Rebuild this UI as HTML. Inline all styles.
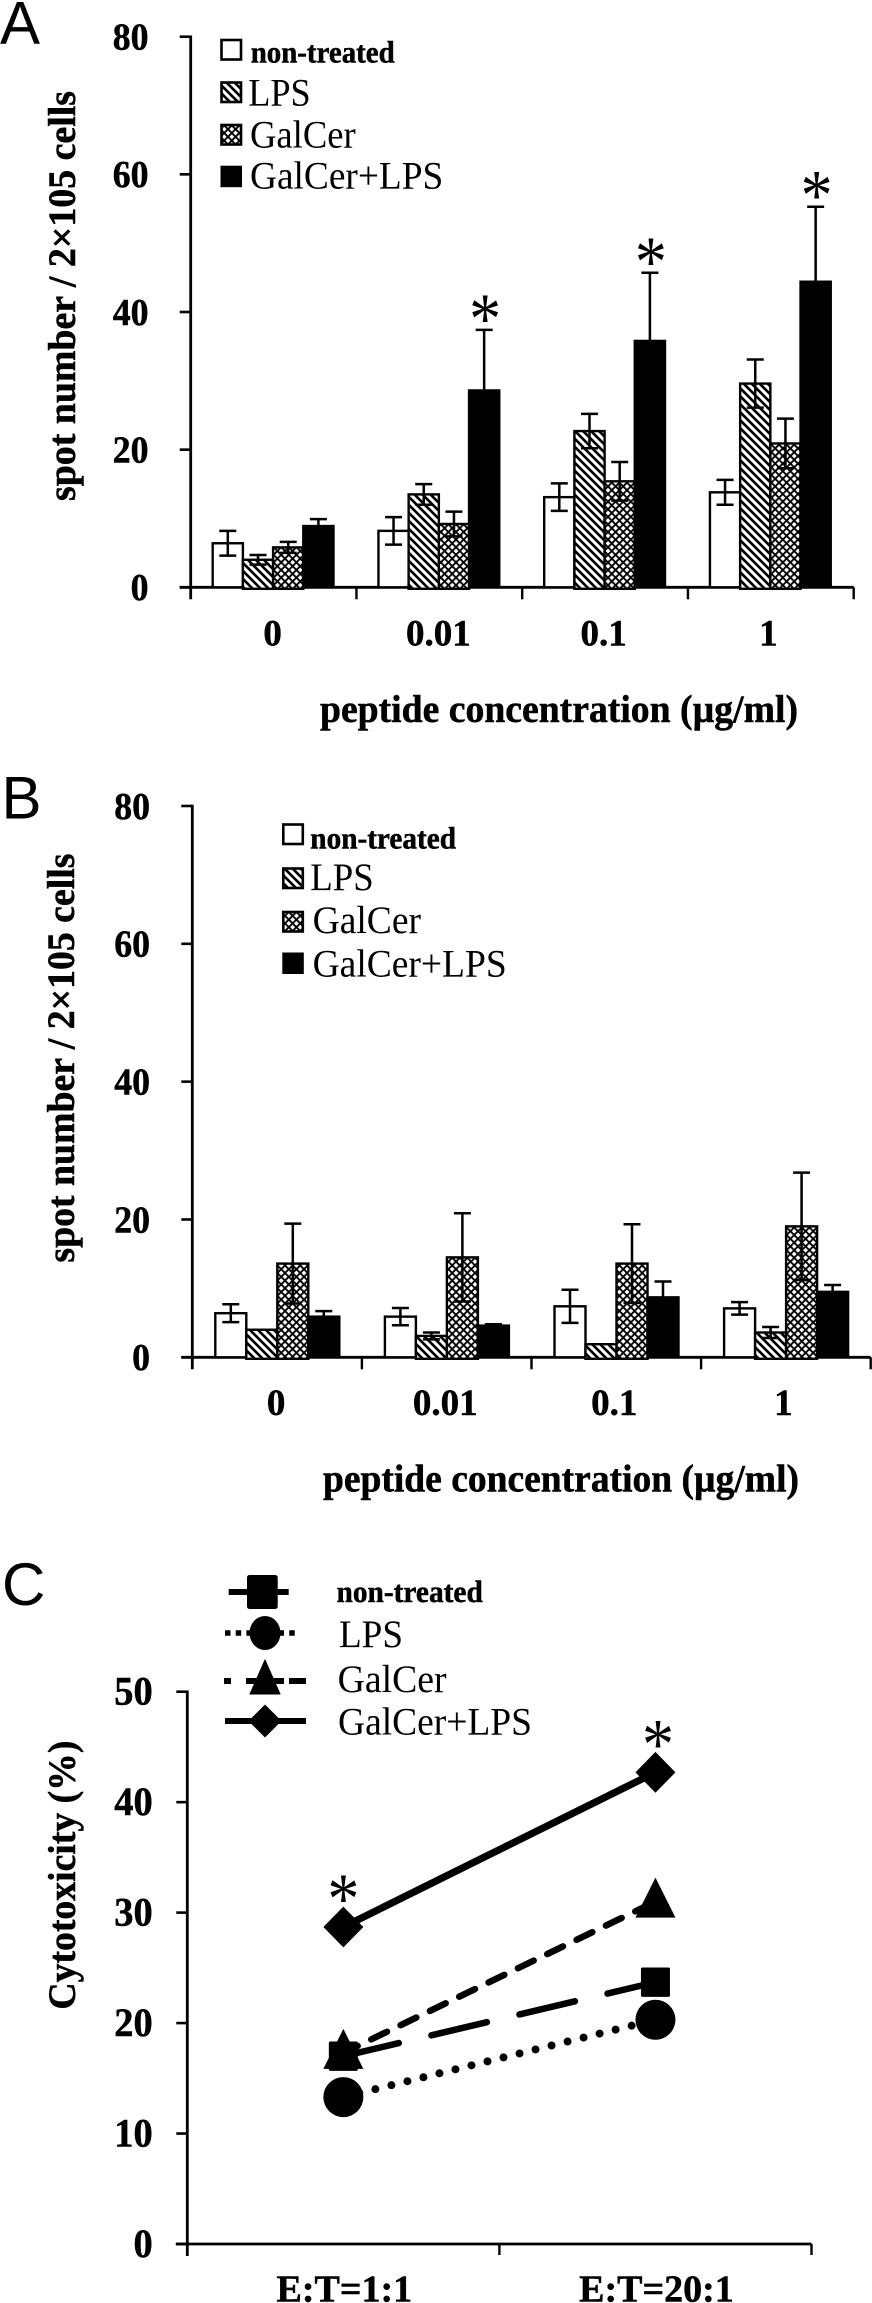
<!DOCTYPE html>
<html lang="en">
<head>
<meta charset="utf-8">
<title>Spot number and cytotoxicity charts</title>
<style>
html,body{margin:0;padding:0;background:#fff;}
svg{display:block;}
text{font-family:"Liberation Serif","Noto Serif CJK SC",serif;fill:#000;}
.panel{font-family:"Liberation Sans","Noto Sans CJK SC",sans-serif;font-size:60px;}
.b{font-weight:bold;font-size:39px;stroke:#000;stroke-width:.5px;}
.n{font-size:31px;}
.r{font-size:39px;}
</style>
</head>
<body>
<svg id="figure" xmlns="http://www.w3.org/2000/svg" width="872" height="2303" viewBox="0 0 872 2303">
  <defs>
    <pattern id="stripes" patternUnits="userSpaceOnUse" width="8" height="8">
      <rect width="8" height="8" fill="#fff"/>
      <path d="M-2 -2L10 10M-2 6L2 10M6 -2L10 2" stroke="#000" stroke-width="2.6"/>
    </pattern>
    <pattern id="cross" patternUnits="userSpaceOnUse" width="7.6" height="7.6">
      <rect width="7.6" height="7.6" fill="#fff"/>
      <path d="M0 0L7.6 7.6M7.6 0L0 7.6" stroke="#000" stroke-width="1.9"/>
    </pattern>
  </defs>
  <rect width="872" height="2303" fill="#fff"/>

  <text class="panel" x="0" y="43.5">A</text>
  <text class="panel" x="1.5" y="818.3">B</text>
  <text class="panel" x="2" y="1605">C</text>

  <g id="chart-a"></g>
  <g id="chart-b"></g>
  <g id="chart-c"></g>

  <text class="b" transform="translate(75 501) rotate(-90)" textLength="410" lengthAdjust="spacingAndGlyphs">spot number / 2×105 cells</text>
  <text class="b" x="320" y="722" textLength="478" lengthAdjust="spacingAndGlyphs">peptide concentration (µg/ml)</text>
  <text class="b" transform="translate(74 1262.6) rotate(-90)" textLength="409" lengthAdjust="spacingAndGlyphs">spot number / 2×105 cells</text>
  <text class="b" x="323" y="1491.5" textLength="476" lengthAdjust="spacingAndGlyphs">peptide concentration (µg/ml)</text>
  <text class="b" transform="translate(75 2009.6) rotate(-90)" textLength="269" lengthAdjust="spacingAndGlyphs">Cytotoxicity (%)</text>

  <g>
    <rect x="221.5" y="40" width="19.5" height="19.5" fill="#fff" stroke="#000" stroke-width="2.6"/>
    <text class="b n" x="250.7" y="62.7" textLength="144" lengthAdjust="spacingAndGlyphs">non-treated</text>
    <rect x="221.5" y="82.5" width="19.5" height="19.5" fill="url(#stripes)" stroke="#000" stroke-width="2.6"/>
    <text class="r" x="248.3" y="105.7" textLength="62.4" lengthAdjust="spacingAndGlyphs">LPS</text>
    <rect x="221.5" y="125" width="19.5" height="19.5" fill="url(#cross)" stroke="#000" stroke-width="2.6"/>
    <text class="r" x="250" y="147.7" textLength="105.7" lengthAdjust="spacingAndGlyphs">GalCer</text>
    <rect x="220.5" y="165.7" width="21.5" height="21.5" fill="#000"/>
    <text class="r" x="250" y="188.3" textLength="193.3" lengthAdjust="spacingAndGlyphs">GalCer+LPS</text>
  </g>

  <g>
    <rect x="283.3" y="824.5" width="19.5" height="19.5" fill="#fff" stroke="#000" stroke-width="2.6"/>
    <text class="b n" x="310.3" y="848.7" textLength="145.7" lengthAdjust="spacingAndGlyphs">non-treated</text>
    <rect x="283.3" y="868.5" width="19.5" height="19.5" fill="url(#stripes)" stroke="#000" stroke-width="2.6"/>
    <text class="r" x="310.3" y="889.8" textLength="63.4" lengthAdjust="spacingAndGlyphs">LPS</text>
    <rect x="283.3" y="912" width="19.5" height="19.5" fill="url(#cross)" stroke="#000" stroke-width="2.6"/>
    <text class="r" x="312.6" y="933" textLength="108.4" lengthAdjust="spacingAndGlyphs">GalCer</text>
    <rect x="282.3" y="952.5" width="21.5" height="21.5" fill="#000"/>
    <text class="r" x="312.6" y="976.6" textLength="194.1" lengthAdjust="spacingAndGlyphs">GalCer+LPS</text>
  </g>

  <g>
    <line x1="228.7" y1="1592" x2="288.7" y2="1592" stroke="#000" stroke-width="6"/>
    <rect x="247" y="1575" width="30.7" height="34" rx="2.5" fill="#000"/>
    <text class="b n" x="336.5" y="1602" textLength="146.3" lengthAdjust="spacingAndGlyphs">non-treated</text>
    <line x1="225" y1="1633" x2="298" y2="1633" stroke="#000" stroke-width="5.5" stroke-dasharray="5.5 5.2"/>
    <ellipse cx="265" cy="1633" rx="15.5" ry="17" fill="#000"/>
    <text class="r" x="339" y="1647" textLength="64" lengthAdjust="spacingAndGlyphs">LPS</text>
    <line x1="224" y1="1681" x2="306" y2="1681" stroke="#000" stroke-width="6" stroke-dasharray="7 15 38 5 17"/>
    <path d="M265 1660L280 1694H250Z" fill="#000" stroke="#000" stroke-width="1" stroke-linejoin="round"/>
    <text class="r" x="337.6" y="1692" textLength="109" lengthAdjust="spacingAndGlyphs">GalCer</text>
    <line x1="225" y1="1721" x2="306" y2="1721" stroke="#000" stroke-width="6"/>
    <path d="M265 1704.5L281.5 1721L265 1737.5L248.5 1721Z" fill="#000"/>
    <text class="r" x="338" y="1734.3" textLength="194" lengthAdjust="spacingAndGlyphs">GalCer+LPS</text>
  </g>
</svg>

<script>
// ---------- shared labels ----------
var seriesKeys = ['non-treated', 'lps', 'galcer', 'galcer-lps'];
var concentrationCategories = ['0', '0.01', '0.1', '1'];
var spotTickLabels = [0, 20, 40, 60, 80];
var cytoTickLabels = [0, 10, 20, 30, 40, 50];
var ratioCategories = ['E:T=1:1', 'E:T=20:1'];

// ---------- chart A values (rows follow the categories) ----------
var aNonTreated = [6.4, 8.2, 13.1, 13.8];
var aNonTreatedErr = [1.8, 2.0, 2.0, 1.8];
var aLps = [4.0, 13.5, 22.7, 29.6];
var aLpsErr = [0.7, 1.5, 2.5, 3.5];
var aGalCer = [5.8, 9.2, 15.4, 20.9];
var aGalCerErr = [0.8, 1.8, 2.8, 3.6];
var aGalCerLps = [8.9, 28.6, 35.8, 44.4];
var aGalCerLpsErr = [1.0, 8.8, 9.9, 10.9];
var aSignificant = [false, true, true, true];

// ---------- chart B values ----------
var bNonTreated = [6.4, 5.9, 7.4, 7.1];
var bNonTreatedErr = [1.3, 1.25, 2.4, 0.9];
var bLps = [4.0, 3.1, 1.9, 3.6];
var bLpsErr = [0, 0.5, 0, 0.8];
var bGalCer = [13.6, 14.5, 13.6, 19.0];
var bGalCerErr = [5.8, 6.4, 5.7, 7.8];
var bGalCerLps = [5.9, 4.6, 8.7, 9.5];
var bGalCerLpsErr = [0.8, 0.2, 2.3, 1.0];

// ---------- chart C values ----------
var cNonTreated = [17.0, 23.7];
var cLps = [13.3, 20.3];
var cGalCer = [17.3, 31.0];
var cGalCerLps = [28.7, 42.7];
var cSignificant = [true, true];

var SVG_NS = 'http://www.w3.org/2000/svg';
function mk(tag, parent, attrs, txt) {
  var e = document.createElementNS(SVG_NS, tag);
  for (var k in attrs) { e.setAttribute(k, attrs[k]); }
  if (txt !== undefined) { e.textContent = txt; }
  parent.appendChild(e);
  return e;
}

function drawAsterisk(g, x, cy) {
  var t = mk('text', g, {x: x, y: cy + 34, 'text-anchor': 'middle', 'font-size': 72, textLength: 32, lengthAdjust: 'spacingAndGlyphs'}, '*');
  
  
}

function drawYAxis(g, x, top, bottom, maxV, ticks, labelRight, digitW, fontSize) {
  var yOf = function (v) { return bottom - (v / maxV) * (bottom - top); };
  var axis = mk('line', g, {x1: x, y1: top - 1.2, x2: x, y2: bottom + 12, stroke: '#000', 'stroke-width': 2.8});
  
  
  ticks.forEach(function (v) {
    var tick = mk('line', g, {x1: x - 11, y1: yOf(v), x2: x, y2: yOf(v), stroke: '#000', 'stroke-width': 2.6});
    
    
    var s = String(v);
    var label = mk('text', g, {x: labelRight, y: yOf(v) + 12.8, 'text-anchor': 'end', 'class': 'b', style: 'font-size:' + fontSize + 'px', textLength: s.length * digitW, lengthAdjust: 'spacingAndGlyphs'}, s);
    
    
  });
  return yOf;
}

function drawBarChart(g, cfg) {
  var yOf = drawYAxis(g, cfg.x0, cfg.top, cfg.bottom, 80, spotTickLabels, cfg.labelRight, 17.9, 38);
  var right = cfg.x0 + cfg.groupW * cfg.cats.length;
  var xAxis = mk('line', g, {x1: cfg.x0 - 11, y1: cfg.bottom, x2: right, y2: cfg.bottom, stroke: '#000', 'stroke-width': 2.8});
  
  
  for (var t = 1; t <= cfg.cats.length; t++) {
    var xt = cfg.x0 + t * cfg.groupW;
    var tick = mk('line', g, {x1: xt, y1: cfg.bottom, x2: xt, y2: cfg.bottom + 12, stroke: '#000', 'stroke-width': 2.4});
    
    
  }
  var fills = ['#fff', 'url(#stripes)', 'url(#cross)', '#000'];
  cfg.cats.forEach(function (cat, c) {
    var gx = cfg.x0 + c * cfg.groupW + cfg.barOffset;
    var label = mk('text', g, {x: cfg.x0 + (c + 0.5) * cfg.groupW + cfg.labelDx[c], y: cfg.labelY, 'text-anchor': 'middle', 'class': 'b', style: 'font-size:37px'}, cat);
    
    
    cfg.values.forEach(function (vals, s) {
      var bx = gx + s * cfg.barW;
      var yTop = yOf(vals[c]);
      var bar = mk('rect', g, {x: bx, y: yTop, width: cfg.barW, height: cfg.bottom - yTop + (s === 1 || s === 2 ? 1.5 : 0), fill: fills[s], stroke: '#000', 'stroke-width': 2.4});
      
      
      var err = cfg.errors[s][c];
      if (err > 0) {
        var cx = bx + cfg.barW / 2;
        var eb = mk('path', g, {
          d: 'M' + cx + ' ' + yOf(vals[c] + err) + 'V' + yOf(vals[c] - err) +
             'M' + (cx - 8.5) + ' ' + yOf(vals[c] + err) + 'H' + (cx + 8.5) +
             'M' + (cx - 8.5) + ' ' + yOf(vals[c] - err) + 'H' + (cx + 8.5),
          fill: 'none', stroke: '#000', 'stroke-width': 2.5
        });
        
        
      }
    });
    if (cfg.significant && cfg.significant[c]) {
      var last = cfg.values.length - 1;
      drawAsterisk(g, gx + last * cfg.barW + cfg.barW / 2 + 1, yOf(cfg.values[last][c] + cfg.errors[last][c]) - 21);
    }
  });
}

drawBarChart(document.getElementById('chart-a'), {
  x0: 190.7, top: 36.7, bottom: 587.3, groupW: 165.75, barOffset: 22, barW: 30.2,
  labelRight: 148.5, labelY: 645.5, labelDx: [-1, -1, -1.5, -2.5],
  cats: concentrationCategories,
  values: [aNonTreated, aLps, aGalCer, aGalCerLps],
  errors: [aNonTreatedErr, aLpsErr, aGalCerErr, aGalCerLpsErr],
  significant: aSignificant
});

drawBarChart(document.getElementById('chart-b'), {
  x0: 192.3, top: 806, bottom: 1357.3, groupW: 169.6, barOffset: 23, barW: 31,
  labelRight: 150, labelY: 1415, labelDx: [-1, -1.5, -2, -2.5],
  cats: concentrationCategories,
  values: [bNonTreated, bLps, bGalCer, bGalCerLps],
  errors: [bNonTreatedErr, bLpsErr, bGalCerErr, bGalCerLpsErr],
  significant: null
});

(function drawLineChart() {
  var g = document.getElementById('chart-c');
  var x0 = 187.3, xEnd = 811.5, top = 1691.7, bottom = 2244;
  var yOf = drawYAxis(g, x0, top, bottom, 50, cytoTickLabels, 152.7, 19.2, 40);
  var step = (xEnd - x0) / ratioCategories.length;
  var xOf = function (i) { return x0 + (i + 0.5) * step; };

  var xAxis = mk('line', g, {x1: x0 - 11.5, y1: bottom, x2: xEnd, y2: bottom, stroke: '#000', 'stroke-width': 2.8});
  
  
  for (var t = 1; t <= ratioCategories.length; t++) {
    var tick = mk('line', g, {x1: x0 + t * step, y1: bottom, x2: x0 + t * step, y2: bottom + 11, stroke: '#000', 'stroke-width': 2.4});
    
    
  }
  ratioCategories.forEach(function (cat, i) {
    var label = mk('text', g, {x: xOf(i) + 1, y: 2301.5, 'text-anchor': 'middle', 'class': 'b', style: 'font-size:38px'}, cat);
    
    
  });

  var series = [
    {key: 'non-treated', vals: cNonTreated, dash: '57 33.5', off: 0, w: 6.5, cap: 'round'},
    {key: 'lps', vals: cLps, dash: '0 16.5', off: 0, w: 8, cap: 'round'},
    {key: 'galcer', vals: cGalCer, dash: '17.5 15.1', off: 1.6, w: 6.5, cap: 'round'},
    {key: 'galcer-lps', vals: cGalCerLps, dash: 'none', off: 0, w: 7.2, cap: 'butt'}
  ];
  series.forEach(function (s) {
    var line = mk('line', g, {
      x1: xOf(0), y1: yOf(s.vals[0]), x2: xOf(1), y2: yOf(s.vals[1]),
      stroke: '#000', 'stroke-width': s.w, 'stroke-dasharray': s.dash,
      'stroke-dashoffset': s.off, 'stroke-linecap': s.cap
    });
    
    
  });
  series.forEach(function (s) {
    s.vals.forEach(function (v, i) {
      var x = xOf(i), y = yOf(v), m;
      if (s.key === 'non-treated') {
        m = mk('rect', g, {x: x - 14.5, y: y - 14.7, width: 29, height: 29.4, rx: 1.5, fill: '#000'});
      } else if (s.key === 'lps') {
        m = mk('circle', g, {cx: x, cy: y, r: 20, fill: '#000'});
      } else if (s.key === 'galcer') {
        m = mk('path', g, {d: 'M' + x + ' ' + (y - 24) + 'L' + (x + 20) + ' ' + (y + 16) + 'H' + (x - 20) + 'Z', fill: '#000'});
      } else {
        m = mk('path', g, {d: 'M' + x + ' ' + (y - 20.4) + 'L' + (x + 20) + ' ' + y + 'L' + x + ' ' + (y + 20.4) + 'L' + (x - 20) + ' ' + y + 'Z', fill: '#000'});
      }
      
      
    });
  });
  cSignificant.forEach(function (sig, i) {
    if (sig) { drawAsterisk(g, xOf(i) + i * 2.5, yOf(cGalCerLps[i]) - 38); }
  });
})();
</script>
</body>
</html>
